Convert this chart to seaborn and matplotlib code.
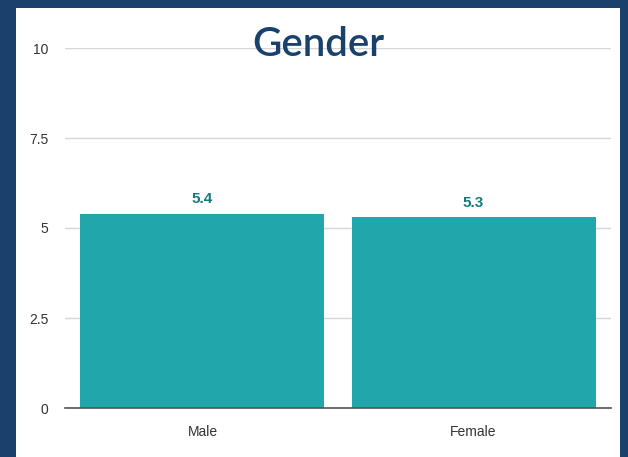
import matplotlib
matplotlib.use("Agg")
import matplotlib.pyplot as plt
import seaborn as sns
import pandas as pd
from matplotlib.patches import Rectangle

# ============================================================
# Data
# ============================================================
genders = ["Male", "Female"]
scores = [5.4, 5.3]
y_ticks = [0, 2.5, 5, 7.5, 10]
y_tick_labels = ["0", "2.5", "5", "7.5", "10"]

df = pd.DataFrame({"gender": genders, "score": scores})

sns.set_theme(style="white")
plt.rcParams["font.family"] = ["Liberation Sans Narrow", "Liberation Sans", "DejaVu Sans"]

navy = "#1a406c"
teal = "#1fa7ab"

fig = plt.figure(figsize=(6.28, 4.57), dpi=100)
fig.patch.set_facecolor(navy)
# white card behind everything
card = Rectangle((16 / 628, 0), (620 - 16) / 628, 1 - 8 / 457,
                 transform=fig.transFigure, facecolor="white",
                 edgecolor="none", zorder=-10)
fig.patches.append(card)

ax = fig.add_axes([65 / 628, 1 - 408 / 457, (611 - 65) / 628, (408 - 48) / 457])
ax.set_facecolor("none")
ax.set_zorder(1)

sns.barplot(data=df, x="gender", y="score", color=teal, saturation=1,
            width=0.9, ax=ax, zorder=3, edgecolor="none", linewidth=0)

for i, v in enumerate(scores):
    ax.text(i, v + 0.2, f"{v}", ha="center", va="bottom", color="#157a7e",
            fontsize=11, fontweight="bold")

ax.set_ylim(0, 10)
ax.set_xlim(-0.507, 1.507)
ax.set_yticks(y_ticks)
ax.set_yticklabels(y_tick_labels)
ax.yaxis.grid(True, color="#d6d6d6", linewidth=1, zorder=0)
ax.set_axisbelow(True)
for s in ["top", "right", "left"]:
    ax.spines[s].set_visible(False)
ax.spines["bottom"].set_color("#555555")
ax.spines["bottom"].set_linewidth(1.2)
ax.spines["bottom"].set_zorder(4)
ax.tick_params(axis="both", length=0, labelsize=10, colors="#333333")
ax.tick_params(axis="y", pad=12)
ax.tick_params(axis="x", pad=12)
ax.set_xlabel("")
ax.set_ylabel("")

fig.text(318 / 628, 1 - 44 / 457, "Gender", ha="center", va="center",
         fontsize=29, color=navy, family=["Lato", "DejaVu Sans"],
         fontweight="semibold", zorder=5)

fig.savefig("out.png", dpi=100, facecolor=fig.get_facecolor())
